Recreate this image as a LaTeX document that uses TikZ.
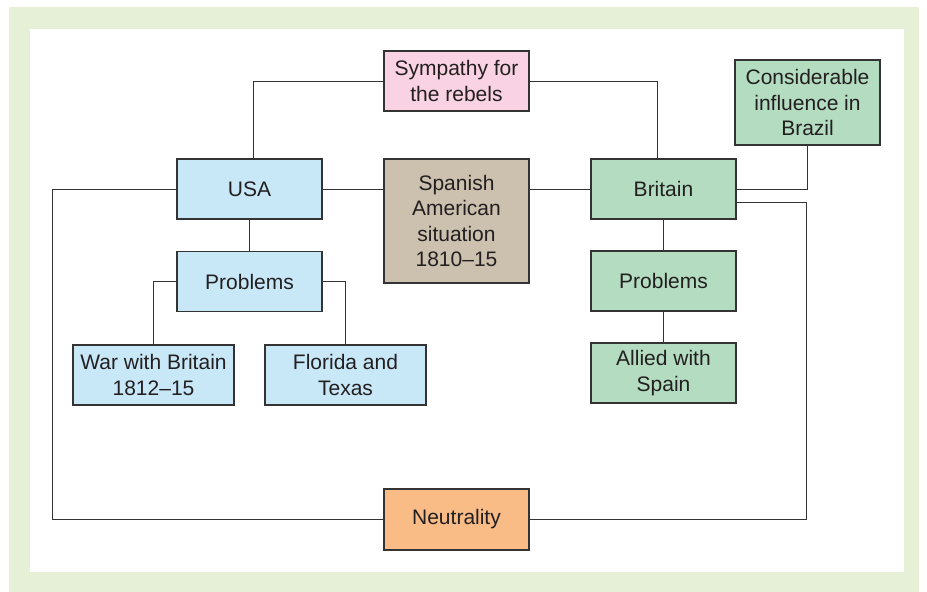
\documentclass[tikz,border=0pt]{standalone}
\usepackage{fontspec}
\setmainfont{Liberation Sans}
\definecolor{framegreen}{HTML}{E5F0D6}
\definecolor{usablue}{HTML}{C8E8F8}
\definecolor{britgreen}{HTML}{B3DCC1}
\definecolor{sympink}{HTML}{F9D3E3}
\definecolor{spantan}{HTML}{CCC0AE}
\definecolor{neutorange}{HTML}{F9BC87}
\definecolor{inkline}{HTML}{333333}
\definecolor{inktext}{HTML}{231F20}
\tikzset{
  card/.style={draw=inkline, line width=1.1pt, align=center, inner sep=0pt,
    text=inktext, font=\fontsize{21}{25.5}\selectfont,
    minimum width=145pt, minimum height=60pt},
  wide/.style={minimum width=161pt},
  link/.style={draw=inkline, line width=0.9pt}
}
\begin{document}
\begin{tikzpicture}[x=1pt, y=-1pt]
  \useasboundingbox (0,0) rectangle (927,592);
  % frame
  \fill[white] (0,0) rectangle (927,592);
  \fill[framegreen] (9,7) rectangle (919,592);
  \fill[white] (30,29) rectangle (904,572);

  % boxes
  \node[card, fill=sympink] (symp) at (456.5,81) {Sympathy for\\the rebels};
  \node[card, fill=britgreen, minimum height=85pt] (brazil) at (807.5,102.5) {Considerable\\influence in\\Brazil};
  \node[card, fill=usablue] (usa) at (249.5,189) {USA};
  \node[card, fill=spantan, minimum height=124pt] (span) at (456.5,221) {Spanish\\American\\situation\\1810--15};
  \node[card, fill=britgreen] (brit) at (663.5,189) {Britain};
  \node[card, fill=usablue] (uprob) at (249.5,281.5) {Problems};
  \node[card, wide, fill=usablue] (war) at (153.5,375) {War with Britain\\1812--15};
  \node[card, wide, fill=usablue] (flor) at (345.5,375) {Florida and\\Texas};
  \node[card, fill=britgreen] (bprob) at (663.5,281) {Problems};
  \node[card, fill=britgreen] (allied) at (663.5,373) {Allied with\\Spain};
  \node[card, fill=neutorange, minimum height=61pt] (neut) at (456.5,519.5) {Neutrality};

  % rail corners for the neutrality loop
  \coordinate (lrail) at (52,519.5);
  \coordinate (rrail) at (806,519.5);

  % connectors
  \draw[link] (symp.west) -| ([xshift=3.5pt]usa.north);
  \draw[link] (symp.east) -| ([xshift=-6.5pt]brit.north);
  \draw[link] (usa.east) -- (usa.east -| span.west);
  \draw[link] (brit.west -| span.east) -- (brit.west);
  \draw[link] (brit.east) -| (brazil.south);
  \draw[link] ([yshift=-13pt]brit.east) -| (rrail) -- (neut.east);
  \draw[link] (usa.west) -| (lrail) -- (neut.west);
  \draw[link] (usa) -- (uprob);
  \draw[link] (uprob.west) -| (war.north);
  \draw[link] (uprob.east) -| (flor.north);
  \draw[link] (brit) -- (bprob);
  \draw[link] (bprob) -- (allied);
\end{tikzpicture}
\end{document}
